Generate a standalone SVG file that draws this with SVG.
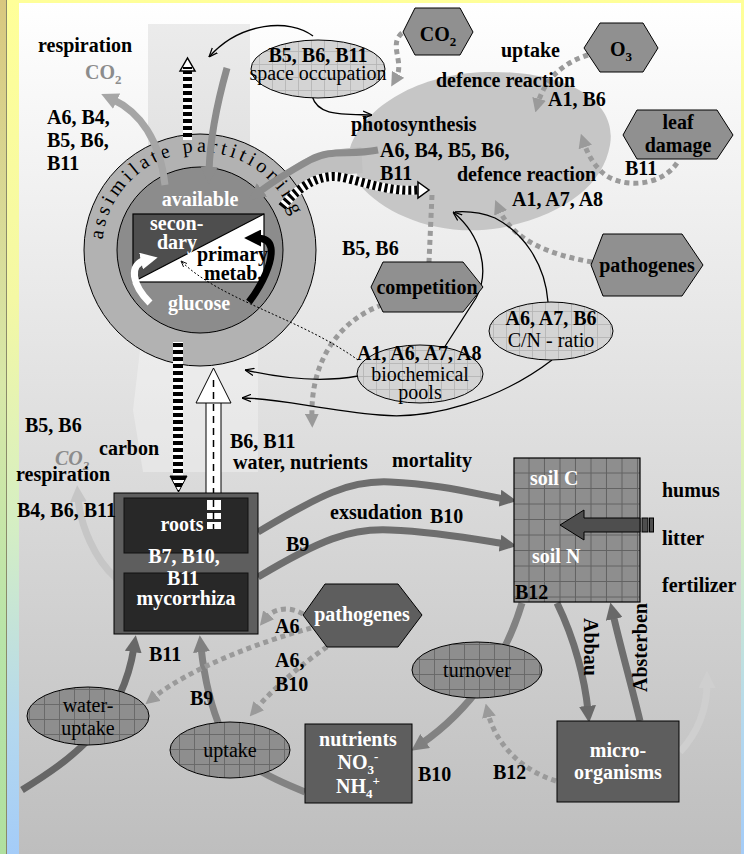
<svg xmlns="http://www.w3.org/2000/svg" width="744" height="854" viewBox="0 0 744 854">
<defs>
<style>
.b{font-family:"Liberation Serif","Times New Roman",serif;font-weight:bold;font-size:20px;fill:#000}
.r{font-family:"Liberation Serif","Times New Roman",serif;font-size:20px;fill:#000}
.w{fill:#fff}
.c{text-anchor:middle}
.hex{fill:#909090;stroke:#000;stroke-width:1}
.hexd{fill:#5e5e5e;stroke:#000;stroke-width:1}
.box{fill:#5e5e5e;stroke:#000;stroke-width:1}
.thin{fill:none;stroke:#000;stroke-width:1.3;marker-end:url(#mThin)}
.dot{fill:none;stroke:#9a9a9a;stroke-width:5;stroke-dasharray:5 4;marker-end:url(#mDot)}
.thick{fill:none;stroke-width:7}
</style>
<linearGradient id="frameG" x1="0" y1="0" x2="0" y2="1">
<stop offset="0" stop-color="#ffff99"/><stop offset="0.35" stop-color="#f4f8a4"/><stop offset="0.62" stop-color="#d4eec4"/><stop offset="0.85" stop-color="#b4d8ee"/><stop offset="1" stop-color="#a4ccf8"/>
</linearGradient>
<linearGradient id="leftG" x1="0" y1="0" x2="0" y2="1">
<stop offset="0" stop-color="#d9c87f"/><stop offset="0.45" stop-color="#d8e8a8"/><stop offset="0.75" stop-color="#b8e4a8"/><stop offset="1" stop-color="#b0e0a0"/>
</linearGradient>
<linearGradient id="panelG" x1="0" y1="0" x2="0" y2="1">
<stop offset="0" stop-color="#ffffff"/><stop offset="1" stop-color="#bebebe"/>
</linearGradient>
<pattern id="gl" width="13" height="13" patternUnits="userSpaceOnUse"><rect width="13" height="13" fill="#d4d4d4"/><path d="M12.5,0V13M0,12.5H13" stroke="#b2b2b2" stroke-width="0.8"/></pattern>
<pattern id="gd" width="15" height="15" patternUnits="userSpaceOnUse"><rect width="15" height="15" fill="#8e8e8e"/><path d="M14.5,0V15M0,14.5H15" stroke="#666" stroke-width="0.9"/></pattern>
<pattern id="gs" x="514" y="458" width="15.5" height="15.5" patternUnits="userSpaceOnUse"><rect width="15.5" height="15.5" fill="#8e8e8e"/><path d="M15,0V15.5M0,15H15.5" stroke="#626262" stroke-width="1"/></pattern>
<pattern id="hs" width="10" height="7" patternUnits="userSpaceOnUse"><rect width="10" height="7" fill="#fff"/><rect width="10" height="4" fill="#000"/></pattern>
<marker id="mThin" viewBox="0 0 10 10" refX="10" refY="5" markerWidth="9" markerHeight="9" markerUnits="userSpaceOnUse" orient="auto"><path d="M0,1 L10,5 L0,9" fill="none" stroke="#000" stroke-width="1.4"/></marker>
<marker id="mDot" viewBox="0 0 10 10" refX="3" refY="5" markerWidth="14" markerHeight="14" markerUnits="userSpaceOnUse" orient="auto"><path d="M0,0 L10,5 L0,10z" fill="#9a9a9a"/></marker>
<marker id="mDk" viewBox="0 0 10 10" refX="3" refY="5" markerWidth="17" markerHeight="17" markerUnits="userSpaceOnUse" orient="auto"><path d="M0,0 L10,5 L0,10z" fill="#686868"/></marker>
<marker id="mMd" viewBox="0 0 10 10" refX="3" refY="5" markerWidth="17" markerHeight="17" markerUnits="userSpaceOnUse" orient="auto"><path d="M0,0 L10,5 L0,10z" fill="#808080"/></marker>
<marker id="mGr" viewBox="0 0 10 10" refX="3" refY="5" markerWidth="17" markerHeight="17" markerUnits="userSpaceOnUse" orient="auto"><path d="M0,0 L10,5 L0,10z" fill="#8c8c8c"/></marker>
<marker id="mLt" viewBox="0 0 10 10" refX="3" refY="5" markerWidth="17" markerHeight="17" markerUnits="userSpaceOnUse" orient="auto"><path d="M0,0 L10,5 L0,10z" fill="#a6a6a6"/></marker>
<marker id="mFa" viewBox="0 0 10 10" refX="3" refY="5" markerWidth="17" markerHeight="17" markerUnits="userSpaceOnUse" orient="auto"><path d="M0,0 L10,5 L0,10z" fill="#c6c6c6"/></marker>
<marker id="mFa2" viewBox="0 0 10 10" refX="3" refY="5" markerWidth="17" markerHeight="17" markerUnits="userSpaceOnUse" orient="auto"><path d="M0,0 L10,5 L0,10z" fill="#cfcfcf"/></marker>
<marker id="mBk" viewBox="0 0 10 10" refX="3" refY="5" markerWidth="17" markerHeight="17" markerUnits="userSpaceOnUse" orient="auto"><path d="M0,0 L10,5 L0,10z" fill="#000"/></marker>
<marker id="mWh" viewBox="0 0 10 10" refX="3" refY="5" markerWidth="17" markerHeight="17" markerUnits="userSpaceOnUse" orient="auto"><path d="M0,0 L10,5 L0,10z" fill="#fff"/></marker>
<marker id="mSm" viewBox="0 0 10 10" refX="10" refY="5" markerWidth="6" markerHeight="6" markerUnits="userSpaceOnUse" orient="auto"><path d="M0,1 L10,5 L0,9" fill="none" stroke="#000" stroke-width="1.5"/></marker>
<path id="arcP" d="M102.5,239.8 A98,98 0 0 1 294.2,223"/>
</defs>

<g id="background">
<rect x="0" y="0" width="744" height="854" fill="url(#frameG)"/>
<rect x="0" y="0" width="6" height="854" fill="url(#leftG)"/>
<line x1="6.5" y1="0" x2="6.5" y2="854" stroke="#8a8a6a" stroke-width="1"/>
<rect x="19" y="3" width="722" height="851" fill="url(#panelG)"/>
<rect x="148" y="24" width="102" height="130" fill="#000" opacity="0.07"/>
<polygon points="140,350 258,350 258,472 143,472 133,410" fill="#fff" opacity="0.3"/>
<path d="M350,148 C365,105 420,74 485,72 C565,70 618,100 610,145 C603,185 565,215 500,228 C440,238 385,215 360,185 Z" fill="#c6c6c6"/>
<path d="M283,192 C305,168 325,162 362,160" fill="none" stroke="#c0c0c0" stroke-width="26"/>
</g>

<g id="circle">
<circle cx="200" cy="250" r="116" fill="#b2b2b2" stroke="#000" stroke-width="1"/>
<circle cx="200" cy="250" r="83" fill="#8c8c8c" stroke="#000" stroke-width="1"/>
<text class="r" font-size="18" letter-spacing="0"><textPath href="#arcP" textLength="262" lengthAdjust="spacing">assimilate partitioning</textPath></text>
<text class="b w c" x="200" y="206">available</text>
<text class="b w c" x="199" y="310">glucose</text>
<polygon points="133,214 264,214 133,282" fill="#4e4e4e"/>
<polygon points="264,214 264,282 133,282" fill="#fff"/>
<rect x="133" y="214" width="131" height="68" fill="none" stroke="#000" stroke-width="1.2"/>
<line x1="133" y1="282" x2="264" y2="214" stroke="#000" stroke-width="1.2"/>
<text class="b w" font-size="17" x="150" y="230">secon-</text>
<text class="b w" font-size="17" x="157" y="249">dary</text>
<text class="b" font-size="17" x="197" y="261">primary</text>
<text class="b" font-size="17" x="204" y="280">metab.</text>
<path d="M150,303 C132,285 128,264 146,260" fill="none" stroke="#fff" stroke-width="7" marker-end="url(#mWh)"/>
<path d="M249,302 C262,285 273,262 271,248 C270,241 264,238 256,238" fill="none" stroke="#000" stroke-width="7" marker-end="url(#mBk)"/>
</g>

<g id="connectors">
<path d="M165,185 C160,140 140,112 112,99" class="thick" stroke="#a6a6a6" marker-end="url(#mLt)"/>
<path d="M227,68 C218,100 210,135 209,172" class="thick" stroke="#8c8c8c" marker-end="url(#mGr)"/>
<rect x="183" y="70" width="9" height="70" fill="url(#hs)"/>
<polygon points="180,71 187.5,58 195,71" fill="#fff" stroke="#000" stroke-width="1.5"/>
<line x1="183" y1="68" x2="192" y2="68" stroke="#000" stroke-width="2"/>
<path d="M313,36 C290,18 240,22 209,57" class="thin"/>
<path d="M312,96 C318,116 340,114 372,115" class="thin"/>
<path d="M402,33 C388,45 405,62 396,78" class="dot"/>
<path d="M588,55 C565,62 545,78 538,103" class="dot"/>
<path d="M677,163 C660,188 620,188 603,173 C594,165 588,155 584,143" class="dot"/>
<path d="M592,262 C550,255 512,240 499,209" class="dot"/>
<path d="M432,195 L429,262" fill="none" stroke="#9a9a9a" stroke-width="5" stroke-dasharray="5 4"/>
<path d="M382,305 C340,320 310,360 312,418" class="dot"/>
<path d="M378,150 C348,156 332,148 310,160 C292,170 272,182 258,193" class="thick" stroke="#8c8c8c" marker-end="url(#mGr)"/>
<path d="M282,207 C300,185 322,172 345,178 C370,184 392,192 418,190" fill="none" stroke="#fff" stroke-width="9"/>
<path d="M282,207 C300,185 322,172 345,178 C370,184 392,192 418,190" fill="none" stroke="#000" stroke-width="9" stroke-dasharray="3 3"/>
<polygon points="418,182 429,190 418,198" fill="#fff" stroke="#000" stroke-width="1.5"/>
<path d="M358,360 C300,318 220,300 181,261" fill="none" stroke="#000" stroke-width="1" stroke-dasharray="2 2" marker-end="url(#mSm)"/>
<path d="M358,376 C320,383 280,378 245,370" class="thin"/>
<path d="M552,360 C500,400 430,420 380,415 C320,410 280,398 242,398" class="thin"/>
<path d="M444,348 L476,298 C490,272 482,236 453,212" class="thin"/>
<path d="M548,302 C545,262 522,232 495,218 C480,212 468,211 455,212" fill="none" stroke="#000" stroke-width="1.3"/>
<rect x="173" y="342" width="10" height="134" fill="url(#hs)"/>
<polygon points="170,476 187,476 178.5,492" fill="url(#hs)" stroke="#000" stroke-width="1"/>
<rect x="206" y="400" width="15" height="96" fill="#fff" stroke="#000" stroke-width="1"/>
<polygon points="196,403 213.5,368 231,403" fill="#fff" stroke="#000" stroke-width="1"/>
<line x1="213.5" y1="380" x2="213.5" y2="496" stroke="#000" stroke-width="1.5" stroke-dasharray="7 5"/>
<path d="M116,578 C95,560 80,525 78,497" class="thick" stroke="#c6c6c6" marker-end="url(#mFa)"/>
<path d="M258,532 C320,495 350,480 390,482 C440,484 480,495 505,499" class="thick" stroke="#6e6e6e" marker-end="url(#mDk)"/>
<path d="M258,577 C320,540 350,528 390,530 C440,532 480,540 505,544" class="thick" stroke="#6e6e6e" marker-end="url(#mDk)"/>
<path d="M557,603 C575,640 585,680 588,711" class="thick" stroke="#6e6e6e" marker-end="url(#mDk)"/>
<path d="M640,721 C630,680 620,645 613,614" class="thick" stroke="#6e6e6e" marker-end="url(#mDk)"/>
<path d="M522,603 C505,660 470,710 421,744" class="thick" stroke="#828282" marker-end="url(#mMd)"/>
<path d="M680,752 C700,730 707,705 707,683" class="thick" stroke="#cfcfcf" marker-end="url(#mFa2)"/>
<path d="M556,781 C520,770 495,742 488,713" class="dot"/>
<path d="M305,792 C270,778 235,762 222,732 C210,705 204,675 201,647" class="thick" stroke="#828282" marker-end="url(#mMd)"/>
<path d="M22,790 C70,760 122,725 134,647" class="thick" stroke="#666" stroke-width="8" marker-end="url(#mDk)"/>
<path d="M303,614 C290,606 274,608 266,618" class="dot"/>
<path d="M311,628 C260,642 190,668 153,698" class="dot"/>
<path d="M327,647 C300,665 272,690 256,709" class="dot"/>
</g>

<g id="space-occupation">
<ellipse cx="318" cy="69" rx="67" ry="29" fill="url(#gl)" stroke="#000" stroke-width="1"/>
<text class="b c" x="318" y="62">B5, B6, B11</text>
<text class="r c" x="318" y="80">space occupation</text>
</g>
<g id="co2-hex">
<polygon class="hex" points="403,32 415,8 460,8 473,32 460,55 415,55"/>
<text class="b c" x="438" y="41">CO<tspan font-size="13" dy="5">2</tspan></text>
</g>
<g id="o3-hex">
<polygon class="hex" points="584,48 600,23 643,23 658,48 643,72 600,72"/>
<text class="b c" x="621" y="56">O<tspan font-size="13" dy="5">3</tspan></text>
</g>
<g id="leaf-damage">
<polygon class="hex" points="623,135 637,110 717,110 733,135 717,159 637,159"/>
<text class="b c" x="678" y="129">leaf</text>
<text class="b c" x="678" y="152">damage</text>
</g>
<g id="competition">
<polygon class="hex" points="371,287 383,262 463,262 483,287 463,312 383,312"/>
<text class="b c" x="427" y="294">competition</text>
</g>
<g id="pathogenes-leaf">
<polygon class="hex" points="591,265 603,234 682,234 703,265 682,296 603,296"/>
<text class="b c" x="647" y="272">pathogenes</text>
</g>
<g id="cn-ratio">
<ellipse cx="551" cy="331" rx="62" ry="29" fill="url(#gl)" stroke="#000" stroke-width="1"/>
<text class="b c" x="551" y="325">A6, A7, B6</text>
<text class="r c" x="551" y="347">C/N - ratio</text>
</g>
<g id="biochemical-pools">
<ellipse cx="420" cy="374" rx="63" ry="29" fill="url(#gl)" stroke="#000" stroke-width="1"/>
<text class="b" x="357" y="360">A1, A6, A7, A8</text>
<text class="r c" x="420" y="381">biochemical</text>
<text class="r c" x="420" y="399">pools</text>
</g>
<g id="roots-mycorrhiza">
<rect class="box" x="114" y="493" width="144" height="141"/>
<rect x="124" y="498" width="124" height="55" fill="#282828" stroke="#111" stroke-width="1"/>
<rect x="124" y="573" width="124" height="58" fill="#282828" stroke="#111" stroke-width="1"/>
<rect x="207" y="500" width="14" height="10" fill="#fff"/>
<rect x="207" y="513" width="14" height="6" fill="#fff"/>
<rect x="207" y="522" width="14" height="7" fill="#fff"/>
<line x1="213.5" y1="500" x2="213.5" y2="529" stroke="#000" stroke-width="1.5" stroke-dasharray="7 5"/>
<text class="b w c" x="182" y="531">roots</text>
<text class="b w c" x="184" y="563">B7, B10,</text>
<text class="b w c" x="183" y="585">B11</text>
<text class="b w c" x="186" y="605">mycorrhiza</text>
</g>
<g id="soil">
<rect x="514" y="458" width="126" height="144" fill="url(#gs)" stroke="#000" stroke-width="1.2"/>
<text class="b w" x="530" y="485">soil C</text>
<text class="b w" x="532" y="563">soil N</text>
<text class="b" x="515" y="599">B12</text>
</g>
<g id="litter-arrow">
<polygon points="640,518 584,518 584,510 560,525 584,540 584,532 640,532" fill="#4e4e4e" stroke="#000" stroke-width="1"/>
<rect x="642" y="518" width="6" height="14" fill="#4e4e4e" stroke="#000" stroke-width="1"/>
<rect x="649.5" y="518" width="4" height="14" fill="#4e4e4e" stroke="#000" stroke-width="1"/>
</g>
<g id="pathogenes-soil">
<polygon class="hexd" points="303,615 325,584 398,584 422,615 398,647 327,647"/>
<text class="b w c" x="362" y="621">pathogenes</text>
</g>
<g id="water-uptake">
<ellipse cx="88" cy="716" rx="61" ry="29" fill="url(#gd)" stroke="#000" stroke-width="1"/>
<text class="r c" x="88" y="712">water-</text>
<text class="r c" x="88" y="735">uptake</text>
</g>
<g id="uptake">
<ellipse cx="230" cy="750" rx="60" ry="28" fill="url(#gd)" stroke="#000" stroke-width="1"/>
<text class="r c" x="230" y="757">uptake</text>
</g>
<g id="turnover">
<ellipse cx="477" cy="670" rx="65" ry="28" fill="url(#gd)" stroke="#000" stroke-width="1"/>
<text class="r c" x="477" y="677">turnover</text>
</g>
<g id="nutrients">
<rect class="box" x="305" y="724" width="107" height="79"/>
<text class="b w c" x="358" y="746">nutrients</text>
<text class="b w c" x="358" y="769">NO<tspan font-size="13" dy="5">3</tspan><tspan font-size="13" dy="-13">-</tspan></text>
<text class="b w c" x="358" y="793">NH<tspan font-size="13" dy="5">4</tspan><tspan font-size="13" dy="-13">+</tspan></text>
</g>
<g id="microorganisms">
<rect class="box" x="557" y="721" width="122" height="81"/>
<text class="b w c" x="618" y="757">micro-</text>
<text class="b w c" x="618" y="779">organisms</text>
</g>

<g id="labels">
<text class="b" x="38" y="52">respiration</text>
<text class="b" x="85" y="79" style="fill:#8c8c8c">CO<tspan font-size="13" dy="5">2</tspan></text>
<text class="b" x="47" y="124">A6, B4,</text>
<text class="b" x="47" y="147">B5, B6,</text>
<text class="b" x="47" y="170">B11</text>
<text class="b" x="501" y="57">uptake</text>
<text class="b" x="436" y="87">defence reaction</text>
<text class="b" x="548" y="106">A1, B6</text>
<text class="b" x="351" y="131">photosynthesis</text>
<text class="b" x="380" y="157">A6, B4, B5, B6,</text>
<text class="b" x="380" y="180">B11</text>
<text class="b" x="457" y="181">defence reaction</text>
<text class="b" x="512" y="206">A1, A7, A8</text>
<text class="b" x="625" y="175">B11</text>
<text class="b" x="342" y="255">B5, B6</text>
<text class="b" x="25" y="432">B5, B6</text>
<text class="b" x="99" y="455">carbon</text>
<text x="55" y="465" style="font-family:'Liberation Serif',serif;font-style:italic;font-weight:bold;font-size:20px;fill:#8c8c8c">CO<tspan font-size="13" dy="5">2</tspan></text>
<text class="b" x="16" y="481">respiration</text>
<text class="b" x="17" y="517">B4, B6, B11</text>
<text class="b" x="230" y="448">B6, B11</text>
<text class="b" x="233" y="469">water, nutrients</text>
<text class="b" x="392" y="467">mortality</text>
<text class="b" x="330" y="519">exsudation</text>
<text class="b" x="430" y="523">B10</text>
<text class="b" x="286" y="551">B9</text>
<text class="b" x="662" y="497">humus</text>
<text class="b" x="662" y="545">litter</text>
<text class="b" x="662" y="592">fertilizer</text>
<text class="b" transform="translate(584,618) rotate(90)">Abbau</text>
<text class="b" transform="translate(647,692) rotate(-90)">Absterben</text>
<text class="b" x="275" y="633">A6</text>
<text class="b" x="275" y="667">A6,</text>
<text class="b" x="275" y="691">B10</text>
<text class="b" x="149" y="661">B11</text>
<text class="b" x="190" y="705">B9</text>
<text class="b" x="418" y="781">B10</text>
<text class="b" x="493" y="779">B12</text>
</g>
</svg>
